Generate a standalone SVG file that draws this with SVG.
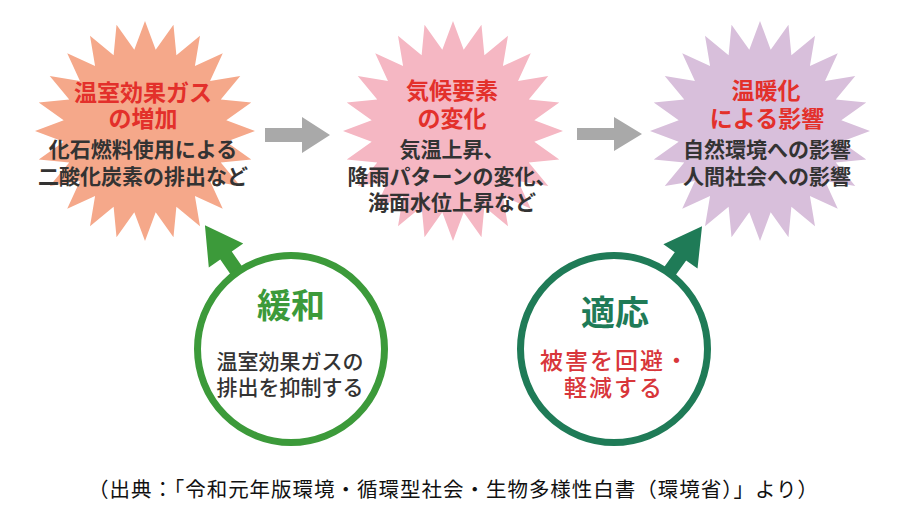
<svg xmlns="http://www.w3.org/2000/svg" width="903" height="514" viewBox="0 0 903 514">
<style>
text{font-family:"Noto Sans CJK JP","Noto Sans CJK SC",sans-serif;text-anchor:middle}
.t{fill:#E3302B;font-size:23px;font-weight:700}
.b{fill:#333;font-size:21px;font-weight:700}
.cb{fill:#333;font-size:21px;font-weight:500}
.cr{fill:#D8363A;font-size:23px;font-weight:500}
.ring{fill:#fff;stroke-width:7}
</style>
<defs>
<polygon id="star" points="110,0 81.3,10.7 106.25,28.47 75.76,31.38 95.26,55 65.05,49.92 77.78,77.78 49.92,65.05 55,95.26 31.38,75.76 28.47,106.25 10.7,81.3 0,110 -10.7,81.3 -28.47,106.25 -31.38,75.76 -55,95.26 -49.92,65.05 -77.78,77.78 -65.05,49.92 -95.26,55 -75.76,31.38 -106.25,28.47 -81.3,10.7 -110,0 -81.3,-10.7 -106.25,-28.47 -75.76,-31.38 -95.26,-55 -65.05,-49.92 -77.78,-77.78 -49.92,-65.05 -55,-95.26 -31.38,-75.76 -28.47,-106.25 -10.7,-81.3 0,-110 10.7,-81.3 28.47,-106.25 31.38,-75.76 55,-95.26 49.92,-65.05 77.78,-77.78 65.05,-49.92 95.26,-55 75.76,-31.38 106.25,-28.47 81.3,-10.7"/>
</defs>
<rect width="903" height="514" fill="#fff"/>
<g id="connectors">
<polygon fill="#A9A9A9" points="265,128 302,128 302,117 330,135 302,153 302,142 265,142"/>
<polygon fill="#A9A9A9" points="577,128 614,128 614,117 642,134 614,151 614,140 577,140"/>
<polygon fill="#3C9A3A" points="233.96,279.19 220.28,259.51 208.8,267.49 204.93,225.18 243.24,243.55 231.76,251.53 245.44,271.21"/>
<polygon fill="#1F7B57" points="660.78,271.79 674.77,252.29 663.4,244.13 702.03,226.31 697.52,268.61 686.15,260.45 672.16,279.95"/>
</g>
<g id="node-ghg">
<use href="#star" transform="translate(145,131)" fill="#F5A88A"/>
<text><tspan class="t" x="143" y="100.5">温室効果ガス</tspan><tspan class="t" x="143" y="126.5">の増加</tspan><tspan class="b" x="143" y="157">化石燃料使用による</tspan><tspan class="b" x="143" y="184">二酸化炭素の排出など</tspan></text>
</g>
<g id="node-climate">
<use href="#star" transform="translate(453,131)" fill="#F5B7C3"/>
<text><tspan class="t" x="452" y="98.5">気候要素</tspan><tspan class="t" x="452" y="126.5">の変化</tspan><tspan class="b" x="452" y="157">気温上昇、</tspan><tspan class="b" x="452" y="183.5">降雨パターンの変化、</tspan><tspan class="b" x="452" y="210">海面水位上昇など</tspan></text>
</g>
<g id="node-impact">
<use href="#star" transform="translate(760,131)" fill="#D8BFDB"/>
<text><tspan class="t" x="766" y="98.5">温暖化</tspan><tspan class="t" x="767" y="126.5">による影響</tspan><tspan class="b" x="767" y="156.5">自然環境への影響</tspan><tspan class="b" x="767" y="183.5">人間社会への影響</tspan></text>
</g>
<g id="node-mitigation">
<circle class="ring" cx="291" cy="349" r="93.5" stroke="#3C9A3A"/>
<text x="291" y="318" fill="#3C9A3A" font-size="34" font-weight="700">緩和</text>
<text><tspan class="cb" x="290" y="368.5">温室効果ガスの</tspan><tspan class="cb" x="290" y="395">排出を抑制する</tspan></text>
</g>
<g id="node-adaptation">
<circle class="ring" cx="614" cy="349" r="93.5" stroke="#1F7B57"/>
<text x="615" y="325" fill="#1F7B57" font-size="34" font-weight="700">適応</text>
<text letter-spacing="2"><tspan class="cr" x="615" y="368.5">被害を回避・</tspan><tspan class="cr" x="614" y="396">軽減する</tspan></text>
</g>
<text x="88" y="497" style="text-anchor:start" font-size="20.5" fill="#111" textLength="730" lengthAdjust="spacing">（出典：「令和元年版環境・循環型社会・生物多様性白書（環境省）」より）</text>
</svg>
